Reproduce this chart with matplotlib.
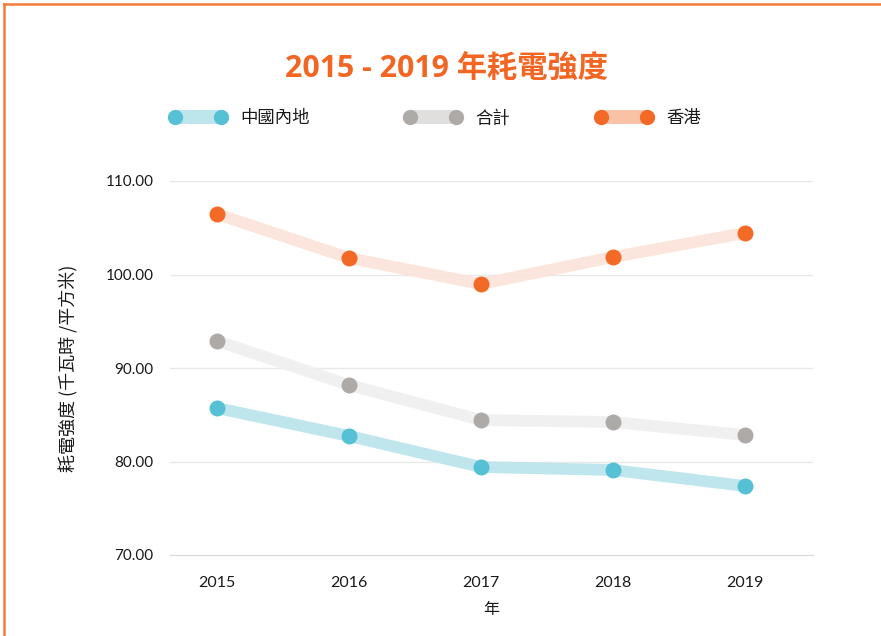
import matplotlib
matplotlib.use("Agg")
import matplotlib.pyplot as plt
from matplotlib.lines import Line2D

years = ["2015", "2016", "2017", "2018", "2019"]
mainland = [85.72, 82.73, 79.41, 79.09, 77.38]
total = [92.89, 88.18, 84.44, 84.22, 82.83]
hongkong = [106.47, 101.76, 98.98, 101.87, 104.44]
series_names = ["中國內地", "合計", "香港"]
yticks = [70, 80, 90, 100, 110]

ORANGE = "#F26522"
marker_colors = ["#56C1D4", "#AEAAA8", "#F26A26"]
band_colors = ["#BDE5EC", "#F0F0F0", "#FBE4DA"]
legend_band_colors = ["#BDE5EC", "#E0DFDE", "#F9C2A6"]

CJK = "Noto Sans CJK TC"
NUM = ["Lato", CJK]

W, H = 881, 636
fig = plt.figure(figsize=(W / 100, H / 100), dpi=100)
fig.patch.set_facecolor("white")

ax = fig.add_axes([170 / W, 1 - 555 / H, (813 - 170) / W, (555 - 181) / H])
x = list(range(len(years)))
for vals, mc, bc in zip([total, hongkong, mainland], [marker_colors[1], marker_colors[2], marker_colors[0]],
                        [band_colors[1], band_colors[2], band_colors[0]]):
    ax.plot(x, vals, color=bc, lw=8.5, solid_capstyle="butt", zorder=2, alpha=0.95)
    ax.plot(x, vals, ls="none", marker="o", ms=11.5, color=mc, mec="none", zorder=3)

ax.set_xlim((170 - 217) / 132, (813 - 217) / 132)
ax.set_ylim(70, 110)
ax.set_yticks(yticks)
ax.set_yticklabels([f"{v:.2f}" for v in yticks], family=NUM, fontsize=11, color="#1A1A1A")
ax.set_xticks(x)
ax.set_xticklabels(years, family=NUM, fontsize=11.5, color="#1A1A1A")
ax.tick_params(axis="both", length=0)
ax.tick_params(axis="y", pad=12)
ax.tick_params(axis="x", pad=15)
ax.grid(axis="y", color="#E8E8E8", lw=1)
ax.set_axisbelow(True)
for s in ["top", "right", "left"]:
    ax.spines[s].set_visible(False)
ax.spines["bottom"].set_color("#DADADA")
ax.set_xlabel("年", family=[CJK], fontsize=11.5, color="#1A1A1A", labelpad=8)
ax.set_ylabel("耗電強度 (千瓦時 /平方米)", family=[CJK], fontsize=13, color="#1A1A1A", labelpad=19)

# Title
fig.text(446 / W, 1 - 70 / H, "2015 - 2019 年耗電強度", ha="center", va="center",
         family=["Open Sans", CJK], fontweight="bold", fontsize=21.8, color=ORANGE)

# Legend (manual)
leg_x = [175, 410, 601]
leg_y = 117
for lx, name, mc, bc in zip(leg_x, series_names, marker_colors, legend_band_colors):
    fig.add_artist(Line2D([lx / W, (lx + 46) / W], [1 - leg_y / H] * 2, color=bc, lw=10,
                          solid_capstyle="butt", transform=fig.transFigure))
    fig.add_artist(Line2D([lx / W, (lx + 46) / W], [1 - leg_y / H] * 2, ls="none", marker="o", ms=11,
                          color=mc, mec="none", transform=fig.transFigure))
    fig.text((lx + 65) / W, 1 - (leg_y + 1.5) / H, name, ha="left", va="center", family=[CJK],
             fontsize=12.5, color="#1A1A1A")

# Orange frame (left and top edges visible)
fig.add_artist(Line2D([3.5 / W, 3.5 / W], [0, 1 - 3.5 / H], color="#F47A3C", lw=1.8, transform=fig.transFigure))
fig.add_artist(Line2D([3.5 / W, 1], [1 - 3.5 / H, 1 - 3.5 / H], color="#F47A3C", lw=1.8, transform=fig.transFigure))

fig.savefig("out.png", dpi=100, facecolor="white")
